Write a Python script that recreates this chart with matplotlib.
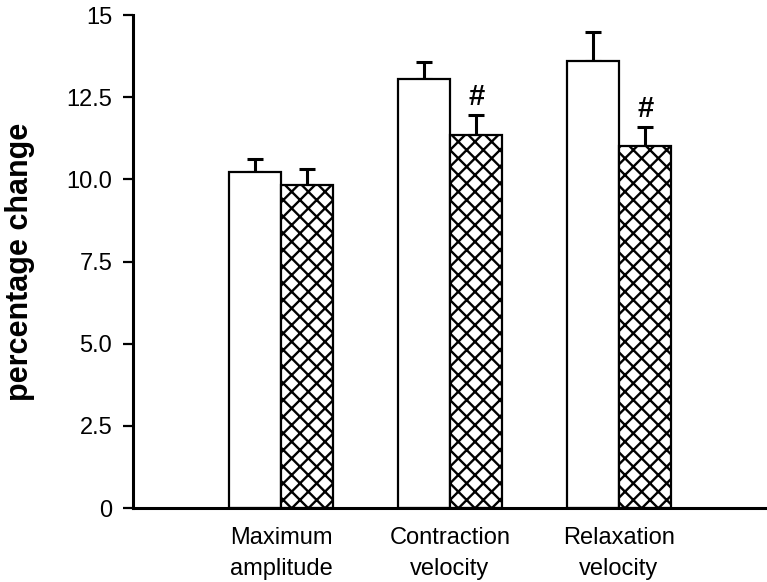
import matplotlib.pyplot as plt
import numpy as np

plt.rcParams['font.family'] = ['Liberation Sans', 'DejaVu Sans']
plt.rcParams['hatch.linewidth'] = 1.7

categories = ['Maximum\namplitude', 'Contraction\nvelocity', 'Relaxation\nvelocity']
open_vals = [10.22, 13.05, 13.6]
open_err = [0.39, 0.52, 0.89]
hatched_vals = [9.83, 11.35, 11.0]
hatched_err = [0.48, 0.6, 0.59]
marks = ['', '#', '#']

x = np.arange(len(categories))
w = 0.31

fig = plt.figure(figsize=(7.67, 5.82), dpi=100)
ax = fig.add_axes([0.1734, 0.1271, 0.8266, 0.8471])

ekw = dict(ecolor='black', elinewidth=2.2, capsize=5.5, capthick=2.2, zorder=1)
ax.bar(x - w / 2, open_vals, w, color='white', edgecolor='black', linewidth=1.6,
       yerr=[np.zeros(3), open_err], error_kw=ekw, zorder=2)
ax.bar(x + w / 2, hatched_vals, w, color='white', edgecolor='black', linewidth=1.6,
       hatch='xx', yerr=[np.zeros(3), hatched_err], error_kw=ekw, zorder=2)

for xi, v, e, m in zip(x, hatched_vals, hatched_err, marks):
    if m:
        ax.text(xi + w / 2, v + e + 0.3, m, ha='center', va='baseline',
                fontsize=21, fontweight='bold')

ax.set_xlim(-0.876, 2.876)
ax.set_ylim(0, 15)
ax.set_yticks([0, 2.5, 5, 7.5, 10, 12.5, 15])
ax.set_yticklabels(['0', '2.5', '5.0', '7.5', '10.0', '12.5', '15'])
ax.set_xticks(x)
ax.set_xticklabels(categories, fontsize=17, linespacing=1.5)
ax.tick_params(axis='x', length=0, pad=14)
ax.tick_params(axis='y', length=7, width=1.6, labelsize=17, pad=8)

for s in ['top', 'right']:
    ax.spines[s].set_visible(False)
for s in ['left', 'bottom']:
    ax.spines[s].set_linewidth(2.2)

ax.set_ylabel('percentage change', fontsize=22, fontweight='bold')
ax.yaxis.set_label_coords(-0.155, 0.5)

fig.savefig('out.png', dpi=100)
